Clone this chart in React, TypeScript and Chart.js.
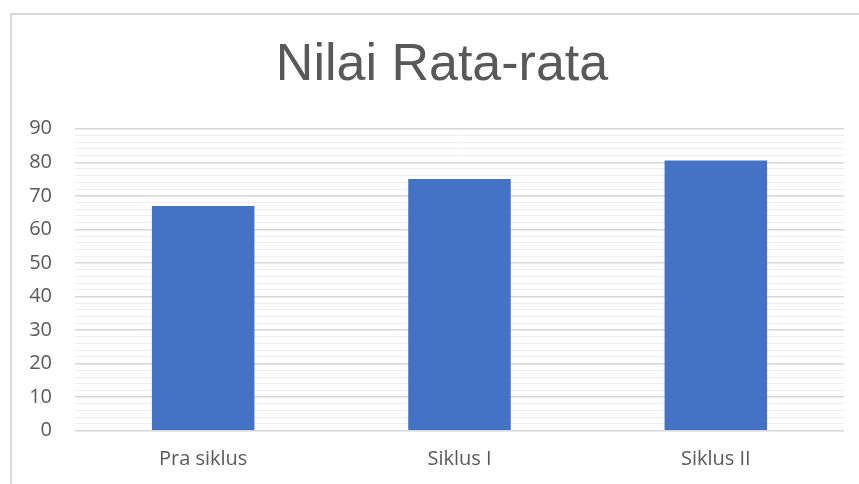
import React, { useEffect, useRef } from "react";
import { Chart, registerables } from "chart.js";

Chart.register(...registerables);

const categories = ["Pra siklus", "Siklus I", "Siklus II"];
const values = [67, 75, 80.5];
const chartTitle = "Nilai Rata-rata";
const yMin = 0;
const yMax = 90;
const minorStep = 2;
const majorStep = 10;

const titlePlugin = {
  id: "centeredTitle",
  afterDraw(chart: any) {
    const ctx = chart.ctx;
    ctx.save();
    ctx.fillStyle = "#595959";
    ctx.font = "normal 52px 'Liberation Sans', Arial, sans-serif";
    ctx.textAlign = "center";
    ctx.textBaseline = "middle";
    ctx.fillText(chartTitle, chart.width / 2, 51.8);
    ctx.restore();
  },
};

export default function App() {
  const ref = useRef<HTMLCanvasElement | null>(null);
  useEffect(() => {
    if (!ref.current) return;
    const chart = new Chart(ref.current, {
      type: "bar",
      data: {
        labels: categories,
        datasets: [
          {
            data: values,
            backgroundColor: "#4472c4",
            borderWidth: 0,
            barPercentage: 0.4,
            categoryPercentage: 1,
          },
        ],
      },
      plugins: [titlePlugin],
      options: {
        responsive: false,
        animation: false,
        devicePixelRatio: 1,
        layout: { padding: { left: 0, right: 30, top: 114.7, bottom: 0 } },
        plugins: {
          legend: { display: false },
          tooltip: { enabled: false },
          title: { display: false },
        },
        scales: {
          x: {
            grid: { display: false, drawTicks: false },
            border: { display: false },
            ticks: {
              color: "#595959",
              font: { family: "'Open Sans', sans-serif", size: 20 },
              padding: 17,
            },
            afterFit: (s: any) => {
              s.height = 53.3;
            },
          },
          y: {
            min: yMin,
            max: yMax,
            border: { display: false },
            grid: {
              drawTicks: false,
              color: (c: any) => (c.tick && c.tick.value % majorStep === 0 ? "#d6d6d6" : "#ededed"),
              lineWidth: (c: any) => (c.tick && c.tick.value % majorStep === 0 ? 1.5 : 1),
            },
            ticks: {
              stepSize: minorStep,
              autoSkip: false,
              color: "#595959",
              font: { family: "'Open Sans', sans-serif", size: 20 },
              padding: 23,
              callback: (v: any) => (Number(v) % majorStep === 0 ? String(v) : ""),
            },
            afterFit: (s: any) => {
              s.width = 65;
            },
          },
        },
      },
    });
    return () => chart.destroy();
  }, []);
  return (
    <div style={{ position: "absolute", left: 0, top: 0, width: 859, height: 484, overflow: "hidden", background: "#fff" }}>
      <div
        style={{
          position: "absolute",
          left: 10,
          top: 13,
          width: 2000,
          height: 2000,
          borderLeft: "2px solid #d9d9d9",
          borderTop: "2px solid #d9d9d9",
        }}
      />
      <canvas ref={ref} width={864} height={470} style={{ position: "absolute", left: 10, top: 14 }} />
    </div>
  );
}
